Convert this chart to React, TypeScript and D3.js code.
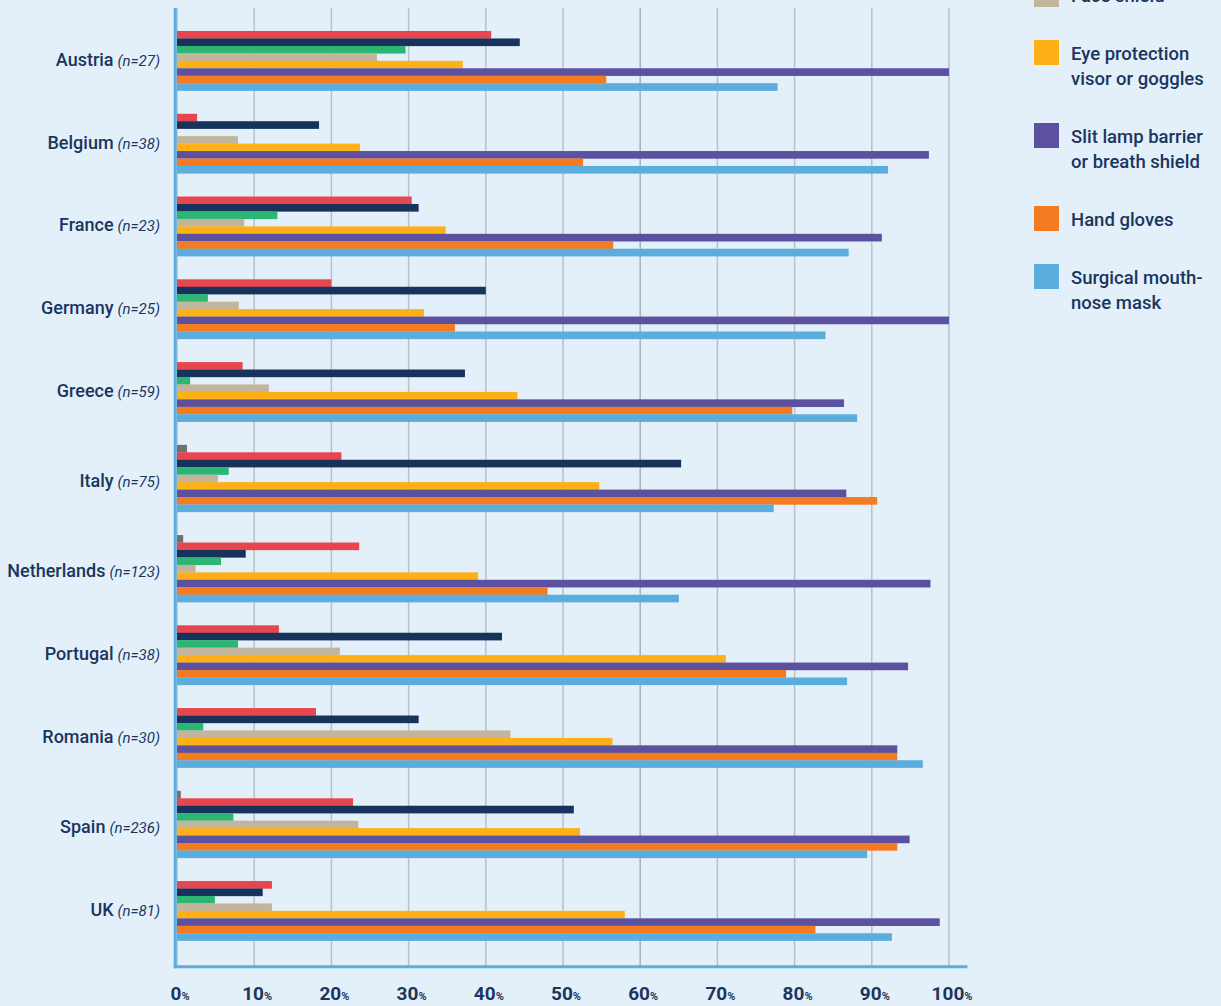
import React from "react";
import * as d3 from "d3";

const WIDTH = 1221;
const HEIGHT = 1006;

// Countries and their respondent counts
const countries = [
  "Austria",
  "Belgium",
  "France",
  "Germany",
  "Greece",
  "Italy",
  "Netherlands",
  "Portugal",
  "Romania",
  "Spain",
  "UK",
];
const sampleSizes = [27, 38, 23, 25, 59, 75, 123, 38, 30, 236, 81];

// Share of respondents (%) per item, one value per country (same order as above)
const greySeries = [0, 0, 0, 0, 0, 1.3, 0.8, 0, 0, 0.5, 0];
const redSeries = [40.7, 2.6, 30.4, 20, 8.5, 21.3, 23.6, 13.2, 18, 22.8, 12.3];
const navySeries = [44.4, 18.4, 31.3, 40, 37.3, 65.3, 8.9, 42.1, 31.3, 51.4, 11.1];
const greenSeries = [29.6, 0, 13.0, 4, 1.7, 6.7, 5.7, 7.9, 3.4, 7.3, 4.9];
const faceShield = [25.9, 7.9, 8.7, 8, 11.9, 5.3, 2.4, 21.1, 43.2, 23.5, 12.3];
const eyeProtection = [37.0, 23.7, 34.8, 32, 44.1, 54.7, 39.0, 71.1, 56.4, 52.2, 58.0];
const slitLampBarrier = [100, 97.4, 91.3, 100, 86.4, 86.7, 97.6, 94.7, 93.3, 94.9, 98.8];
const handGloves = [55.6, 52.6, 56.5, 36, 79.7, 90.7, 48.0, 78.9, 93.3, 93.3, 82.7];
const surgicalMask = [77.8, 92.1, 87.0, 84, 88.1, 77.3, 65.0, 86.8, 96.6, 89.4, 92.6];

const seriesValues = [
  greySeries,
  redSeries,
  navySeries,
  greenSeries,
  faceShield,
  eyeProtection,
  slitLampBarrier,
  handGloves,
  surgicalMask,
];
const seriesColors = [
  "#717171",
  "#e8464f",
  "#17335c",
  "#2bb673",
  "#c3b59c",
  "#fdb116",
  "#5c50a0",
  "#f47b20",
  "#5badde",
];

// Legend entries (the list continues above the top edge)
const legendLabels: string[][] = [
  ["Face shield"],
  ["Eye protection", "visor or goggles"],
  ["Slit lamp barrier", "or breath shield"],
  ["Hand gloves"],
  ["Surgical mouth-", "nose mask"],
];
const legendColors = ["#c3b59c", "#fdb116", "#5c50a0", "#f47b20", "#5badde"];

const xTicks = [0, 10, 20, 30, 40, 50, 60, 70, 80, 90, 100];

const BG = "#e3f0fa";
const INK = "#1b355e";
const AXIS = "#5aaee0";
const GRID = "#b9c0c8";
const FONT = "Roboto, 'Noto Sans', sans-serif";

export default function App() {
  const x = d3.scaleLinear().domain([0, 100]).range([177, 949]);

  // Each country block: the grey item only takes a row when it is non-zero
  const groups = countries.map((country, i) => {
    const rows = seriesValues
      .map((vals, s) => ({ s, v: vals[i] }))
      .filter((d) => !(d.s === 0 && d.v === 0));
    return { country, i, rows, hasGrey: rows[0].s === 0 };
  });

  const GAP_ROWS = 3.1;
  const starts: number[] = [];
  let acc = 0;
  groups.forEach((g) => {
    starts.push(acc);
    acc += g.rows.length + GAP_ROWS;
  });
  const totalRows = acc - GAP_ROWS;
  const y = d3.scaleLinear().domain([0, totalRows]).range([31, 940.7]);
  const rowH = y(1) - y(0);

  const plotTop = 8;
  const plotBottom = 966.7;

  // Legend vertical layout
  const legendTops: number[] = [];
  let ly = -18;
  legendLabels.forEach((lines) => {
    legendTops.push(ly);
    ly += 33 + 25 * lines.length;
  });

  return (
    <div style={{ position: "absolute", left: 0, top: 0 }}>
      <svg width={WIDTH} height={HEIGHT} style={{ display: "block" }}>
        <rect x={0} y={0} width={WIDTH} height={HEIGHT} fill={BG} />

        {/* vertical grid */}
        {xTicks.map((t) => (
          <line
            key={`g${t}`}
            x1={x(t)}
            x2={x(t)}
            y1={plotTop}
            y2={plotBottom}
            stroke={t === 60 ? "#a9b0b8" : GRID}
            strokeWidth={1.5}
          />
        ))}

        {/* bars */}
        {groups.map((g, gi) =>
          g.rows.map((r, k) =>
            r.v > 0 ? (
              <rect
                key={`${g.country}-${r.s}`}
                x={x(0)}
                y={y(starts[gi] + k)}
                width={x(r.v) - x(0)}
                height={rowH + 0.2}
                fill={seriesColors[r.s]}
              />
            ) : null
          )
        )}

        {/* axes */}
        <line x1={175.2} x2={175.2} y1={plotTop} y2={968.2} stroke={AXIS} strokeWidth={3} />
        <line x1={173.7} x2={967.5} y1={966.7} y2={966.7} stroke={AXIS} strokeWidth={3} />

        {/* country labels */}
        {groups.map((g, gi) => {
          const centre = y(starts[gi] + (g.hasGrey ? 1 : 0) + 4);
          return (
            <text
              key={`l${g.country}`}
              x={160}
              y={centre + 5}
              textAnchor="end"
              fontFamily={FONT}
              fill={INK}
            >
              <tspan fontSize={18} fontWeight={500}>
                {g.country}
              </tspan>
              <tspan fontSize={15} fontStyle="italic" dx={4}>
                {`(n=${sampleSizes[g.i]})`}
              </tspan>
            </text>
          );
        })}

        {/* x tick labels */}
        {xTicks.map((t) => (
          <text
            key={`t${t}`}
            x={x(t) + 3}
            y={1000}
            textAnchor="middle"
            fontFamily={FONT}
            fontWeight={700}
            fill={INK}
          >
            <tspan fontSize={19}>{t}</tspan>
            <tspan fontSize={11}>%</tspan>
          </text>
        ))}

        {/* legend */}
        {legendLabels.map((lines, i) => (
          <g key={`lg${i}`} transform={`translate(1034,${legendTops[i]})`}>
            <rect x={0} y={0} width={25} height={25} fill={legendColors[i]} />
            {lines.map((line, j) => (
              <text
                key={j}
                x={37}
                y={19.5 + j * 25}
                fontFamily={FONT}
                fontSize={18.5}
                fontWeight={500}
                fill={INK}
              >
                {line}
              </text>
            ))}
          </g>
        ))}
      </svg>
    </div>
  );
}
